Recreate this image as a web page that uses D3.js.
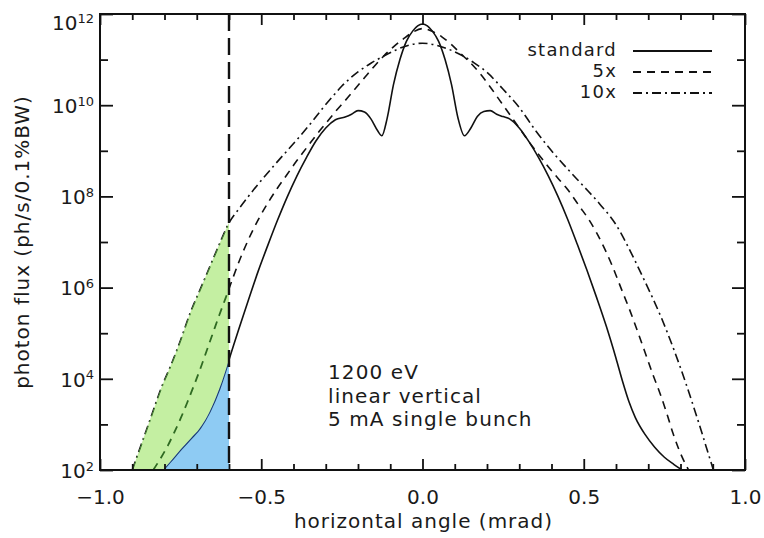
<!DOCTYPE html>
<html>
<head>
<meta charset="utf-8">
<script src="https://cdn.jsdelivr.net/npm/d3@7"></script>
<style>
  body { margin: 0; background: #fff; }
  svg { display: block; }
  text { font-family: "DejaVu Sans", sans-serif; fill: #1a1a1a; }
</style>
</head>
<body>
<svg id="chart" width="764" height="538"></svg>
<script>
// Horizontal angle (mrad) and log10 of photon flux for each filling pattern
const stdAngle = [-0.805,-0.78,-0.75,-0.72,-0.69,-0.66,-0.63,-0.60,-0.57,-0.54,-0.51,-0.48,-0.45,-0.42,-0.39,-0.36,-0.33,-0.30,-0.27,-0.24,-0.22,-0.20,-0.18,-0.16,-0.14,-0.126,-0.11,-0.09,-0.07,-0.05,-0.03,-0.015,0,
  0.015,0.03,0.05,0.07,0.09,0.11,0.13,0.15,0.17,0.19,0.21,0.23,0.25,0.27,0.30,0.33,0.36,0.39,0.42,0.45,0.48,0.51,0.54,0.57,0.60,0.62,0.64,0.66,0.69,0.72,0.75,0.78,0.805];
const stdLogFlux = [2.0,2.2,2.45,2.68,2.92,3.28,3.78,4.42,5.08,5.72,6.35,6.92,7.47,7.98,8.44,8.85,9.22,9.5,9.68,9.74,9.8,9.88,9.85,9.7,9.45,9.33,9.7,10.45,11.0,11.4,11.63,11.74,11.78,
  11.74,11.63,11.4,11.0,10.45,9.72,9.33,9.5,9.75,9.86,9.88,9.8,9.75,9.7,9.5,9.2,8.85,8.45,8.0,7.5,6.95,6.38,5.78,5.15,4.45,3.95,3.5,3.15,2.78,2.5,2.28,2.12,2.0];

const x5Angle = [-0.835,-0.81,-0.79,-0.77,-0.75,-0.73,-0.71,-0.69,-0.67,-0.65,-0.63,-0.61,-0.59,-0.57,-0.54,-0.51,-0.48,-0.45,-0.42,-0.39,-0.36,-0.33,-0.30,-0.27,-0.24,-0.21,-0.18,-0.15,-0.12,-0.09,-0.06,-0.03,0,
  0.03,0.06,0.09,0.12,0.15,0.18,0.21,0.24,0.27,0.30,0.33,0.36,0.39,0.42,0.45,0.488,0.515,0.54,0.565,0.59,0.615,0.643,0.67,0.695,0.715,0.736,0.757,0.777,0.795,0.814,0.825];
const x5LogFlux = [2.0,2.28,2.53,2.82,3.13,3.47,3.83,4.2,4.6,5.0,5.4,5.78,6.17,6.55,7.05,7.48,7.85,8.18,8.48,8.78,9.06,9.34,9.6,9.86,10.1,10.35,10.6,10.85,11.08,11.28,11.45,11.6,11.68,
  11.62,11.5,11.33,11.12,10.92,10.68,10.4,10.1,9.8,9.5,9.2,8.92,8.65,8.4,8.15,7.77,7.5,7.2,6.85,6.45,6.0,5.5,4.98,4.48,4.08,3.69,3.25,2.8,2.45,2.15,2.0];

const x10Angle = [-0.90,-0.87,-0.84,-0.81,-0.78,-0.75,-0.72,-0.69,-0.66,-0.63,-0.60,-0.57,-0.54,-0.50,-0.46,-0.42,-0.38,-0.34,-0.31,-0.28,-0.25,-0.20,-0.16,-0.12,-0.08,-0.04,0,
  0.04,0.08,0.12,0.16,0.20,0.25,0.30,0.35,0.40,0.45,0.50,0.55,0.60,0.63,0.665,0.69,0.715,0.74,0.76,0.78,0.80,0.82,0.84,0.86,0.88,0.902];
const x10LogFlux = [2.0,2.6,3.2,3.8,4.3,4.85,5.45,5.95,6.45,6.95,7.42,7.72,8.0,8.35,8.68,9.0,9.32,9.66,9.93,10.18,10.42,10.73,10.92,11.08,11.22,11.32,11.36,
  11.32,11.23,11.1,10.93,10.72,10.35,9.95,9.45,9.0,8.6,8.22,7.83,7.38,7.0,6.5,6.13,5.75,5.35,5.0,4.63,4.24,3.83,3.4,2.96,2.5,2.0];

const seriesNames = ["standard", "5x", "10x"];
const xMajorTicks = [-1, -0.5, 0, 0.5, 1];
const xMajorLabels = ["\u22121.0", "\u22120.5", "0.0", "0.5", "1.0"];
const xMinorTicks = [-0.9,-0.8,-0.7,-0.6,-0.4,-0.3,-0.2,-0.1,0.1,0.2,0.3,0.4,0.6,0.7,0.8,0.9];
const yMajorExponents = [2, 4, 6, 8, 10, 12];
const yMinorExponents = [3, 5, 7, 9, 11];
const noteLines = ["1200 eV", "linear vertical", "5 mA single bunch"];
const cutoffAngle = -0.6;

// Build point lists
const toPoints = (a, f) => a.map((v, i) => ({ angle: v, flux: Math.pow(10, f[i]) }));
const series = [
  { name: seriesNames[0], pts: toPoints(stdAngle, stdLogFlux), dash: null },
  { name: seriesNames[1], pts: toPoints(x5Angle, x5LogFlux), dash: "8,6" },
  { name: seriesNames[2], pts: toPoints(x10Angle, x10LogFlux), dash: "9,4,2,4" }
];

const svg = d3.select("#chart");
const pL = 100, pR = 745, pT = 14, pB = 470;
const x = d3.scaleLinear().domain([-1, 1]).range([pL, pR]);
const y = d3.scaleLog().domain([1e2, 1e12]).range([pB, pT]);

const line = d3.line().x(d => x(d.angle)).y(d => y(d.flux)).curve(d3.curveMonotoneX);
const area = d3.area().x(d => x(d.angle)).y0(y(1e2)).y1(d => y(d.flux)).curve(d3.curveMonotoneX);

const defs = svg.append("defs");
defs.append("clipPath").attr("id", "plotClip")
  .append("rect").attr("x", pL).attr("y", pT).attr("width", pR - pL).attr("height", pB - pT);

const plot = svg.append("g").attr("clip-path", "url(#plotClip)");

// curves
plot.selectAll("path.curve").data(series).join("path")
  .attr("class", "curve")
  .attr("d", d => line(d.pts))
  .attr("fill", "none")
  .attr("stroke", "#111")
  .attr("stroke-width", 1.6)
  .attr("stroke-dasharray", d => d.dash);

// shaded regions beyond the cutoff angle
const greenPts = series[2].pts.filter(d => d.angle <= cutoffAngle + 1e-9);
const bluePts = series[0].pts.filter(d => d.angle <= cutoffAngle + 1e-9);
defs.append("clipPath").attr("id", "greenClip").append("path").attr("d", area(greenPts));
defs.append("clipPath").attr("id", "blueClip").append("path").attr("d", area(bluePts));

plot.append("path").attr("d", area(greenPts)).attr("fill", "#c4efa2");
plot.append("path").attr("d", area(bluePts)).attr("fill", "#8ecbf3");

// curves seen through the shading
const gIn = plot.append("g").attr("clip-path", "url(#greenClip)");
gIn.selectAll("path").data([series[1], series[2]]).join("path")
  .attr("d", d => line(d.pts))
  .attr("fill", "none")
  .attr("stroke", "#2f6a22")
  .attr("stroke-width", 1.8)
  .attr("stroke-dasharray", d => d.dash);
const bIn = plot.append("g").attr("clip-path", "url(#blueClip)");
bIn.append("path").attr("d", line(series[0].pts))
  .attr("fill", "none").attr("stroke", "#1c3a6e").attr("stroke-width", 2.2);

// cutoff marker
svg.append("line")
  .attr("x1", x(cutoffAngle)).attr("x2", x(cutoffAngle))
  .attr("y1", y(1e12)).attr("y2", y(1e2))
  .attr("stroke", "#111").attr("stroke-width", 2.4)
  .attr("stroke-dasharray", "17,7");

// axes
function styleAxis(g) {
  g.select(".domain").remove();
  g.selectAll(".tick line").attr("stroke", "#111").attr("stroke-width", 1.8);
}
const tickFont = 20;

svg.append("g").attr("transform", `translate(0,${pB})`)
  .call(d3.axisBottom(x).tickValues(xMajorTicks).tickSize(-11).tickPadding(20)
    .tickFormat((d, i) => xMajorLabels[i]))
  .call(styleAxis)
  .call(g => g.selectAll("text").attr("font-size", tickFont).attr("font-family", "DejaVu Sans").attr("fill", "#1a1a1a"));
svg.append("g").attr("transform", `translate(0,${pB})`)
  .call(d3.axisBottom(x).tickValues(xMinorTicks).tickSize(-6).tickFormat(""))
  .call(styleAxis);
svg.append("g").attr("transform", `translate(0,${pT})`)
  .call(d3.axisTop(x).tickValues(xMajorTicks).tickSize(-11).tickFormat(""))
  .call(styleAxis);
svg.append("g").attr("transform", `translate(0,${pT})`)
  .call(d3.axisTop(x).tickValues(xMinorTicks).tickSize(-6).tickFormat(""))
  .call(styleAxis);

const yMajor = yMajorExponents.map(e => Math.pow(10, e));
const yMinor = yMinorExponents.map(e => Math.pow(10, e));
svg.append("g").attr("transform", `translate(${pL},0)`)
  .call(d3.axisLeft(y).tickValues(yMajor).tickSize(-13).tickPadding(6).tickFormat(""))
  .call(styleAxis)
  .call(g => g.selectAll(".tick").each(function (d, i) {
    const t = d3.select(this).append("text")
      .attr("x", -6).attr("dy", yMajorExponents[i] === 12 ? "0.78em" : "0.36em")
      .attr("text-anchor", "end").attr("font-size", tickFont);
    t.append("tspan").text("10");
    t.append("tspan").attr("dy", "-0.55em").attr("font-size", 13).text(yMajorExponents[i]);
  }));
svg.append("g").attr("transform", `translate(${pL},0)`)
  .call(d3.axisLeft(y).tickValues(yMinor).tickSize(-8).tickFormat(""))
  .call(styleAxis);
svg.append("g").attr("transform", `translate(${pR},0)`)
  .call(d3.axisRight(y).tickValues(yMajor).tickSize(-13).tickFormat(""))
  .call(styleAxis);
svg.append("g").attr("transform", `translate(${pR},0)`)
  .call(d3.axisRight(y).tickValues(yMinor).tickSize(-8).tickFormat(""))
  .call(styleAxis);

// frame
svg.append("rect").attr("x", pL).attr("y", pT)
  .attr("width", pR - pL).attr("height", pB - pT)
  .attr("fill", "none").attr("stroke", "#111").attr("stroke-width", 2);

// axis titles
svg.append("text").attr("x", (pL + pR) / 2 + 1).attr("y", 528)
  .attr("text-anchor", "middle").attr("font-size", 20).attr("letter-spacing", 1)
  .text("horizontal angle (mrad)");
svg.append("text").attr("transform", `translate(29,${(pT + pB) / 2}) rotate(-90)`)
  .attr("text-anchor", "middle").attr("font-size", 20).attr("letter-spacing", 1)
  .text("photon flux (ph/s/0.1%BW)");

// legend
const legend = svg.append("g");
const legendY = [50, 71, 92];
series.forEach((s, i) => {
  legend.append("text").attr("x", 617).attr("y", legendY[i]).attr("dy", "0.35em")
    .attr("text-anchor", "end").attr("font-size", 18).attr("letter-spacing", 1.2)
    .text(s.name);
  legend.append("line").attr("x1", 633).attr("x2", 712)
    .attr("y1", legendY[i] + 1).attr("y2", legendY[i] + 1)
    .attr("stroke", "#111").attr("stroke-width", 1.8)
    .attr("stroke-dasharray", s.dash);
});

// beam conditions note
const noteY = [379, 403, 426];
svg.append("g").selectAll("text").data(noteLines).join("text")
  .attr("x", 328).attr("y", (d, i) => noteY[i])
  .attr("font-size", 20).attr("letter-spacing", 1.1)
  .text(d => d);
</script>
</body>
</html>
